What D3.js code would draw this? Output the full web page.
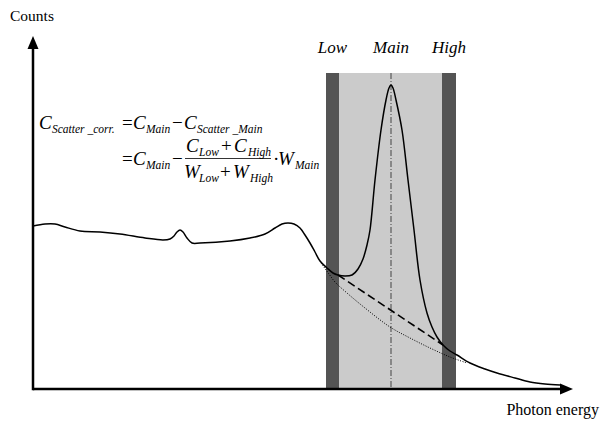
<!DOCTYPE html>
<html>
<head>
<meta charset="utf-8">
<script src="https://cdn.jsdelivr.net/npm/d3@7"></script>
<style>
  body { margin: 0; background: #fff; }
  text { font-family: "Liberation Serif", "Times New Roman", serif; fill: #000; }
  .it { font-style: italic; }
</style>
</head>
<body>
<div id="chart"></div>
<script>
//Width and height
var w = 600;
var h = 422;

// spectrum (channel, counts)
var energy = [0, 12, 22, 32, 47, 67, 87, 112, 130, 137, 141, 144, 147, 150, 154, 159, 167, 197, 217, 232,
              242, 249, 255, 261, 267, 272, 277, 282, 287, 294, 300, 305, 312, 319, 325, 330, 334, 337,
              342, 348, 353, 356, 358, 360, 363, 369, 375, 381, 387, 394, 399, 404, 410, 417, 424, 437,
              452, 464, 482, 497, 512, 527];
var counts = [163, 165, 165, 162, 158, 157, 155, 151, 149, 150, 153, 157, 159, 157, 151, 146, 146, 148, 151, 155,
              161, 165, 166, 165, 161, 154, 146, 137, 128, 121, 116, 114, 113, 114, 120, 130, 144, 159,
              209, 259, 289, 301, 304, 301, 289, 259, 209, 159, 109, 76, 62, 52, 44, 38, 34, 26,
              20, 16, 11, 7, 5, 4];

// true scatter under the peak (dotted)
var scatterEnergy = [288, 296, 302, 314, 332, 357, 377, 397, 417, 434];
var scatterCounts = [126, 115, 107, 96, 81, 62, 51, 41, 32, 26];

// linear estimate between the side windows (dashed)
var estEnergy = [305, 410];
var estCounts = [114, 44];

// energy windows
var windowNames = ["Low", "Main", "High"];
var windowStart = [293, 306, 409];
var windowEnd = [306, 409, 423];
var windowTop = 316;
var mainCentre = 358;

//Create scale functions
var xScale = d3.scaleLinear()
                .domain([0, 540])
                .range([33, 573]);

var yScale = d3.scaleLinear()
                .domain([0, 350])
                .range([389, 39]);

//Create SVG element
var svg = d3.select("#chart")
            .append("svg")
            .attr("width", w)
            .attr("height", h);

//Windows
svg.selectAll("rect.win")
   .data(windowNames)
   .enter()
   .append("rect")
   .attr("class", "win")
   .attr("x", function(d, i) { return xScale(windowStart[i]); })
   .attr("y", yScale(windowTop))
   .attr("width", function(d, i) { return xScale(windowEnd[i]) - xScale(windowStart[i]); })
   .attr("height", yScale(0) - yScale(windowTop))
   .attr("fill", function(d) { return d == "Main" ? "#cbcbcb" : "#545454"; });

svg.selectAll("text.win")
   .data(windowNames)
   .enter()
   .append("text")
   .attr("class", "win it")
   .attr("text-anchor", "middle")
   .attr("x", function(d, i) {
        if (d == "Main") return xScale(mainCentre);
        return xScale((windowStart[i] + windowEnd[i]) / 2);
   })
   .attr("y", 53)
   .attr("font-size", "17px")
   .text(function(d) { return d; });

//centre line
svg.append("line")
   .attr("x1", xScale(mainCentre)).attr("x2", xScale(mainCentre))
   .attr("y1", yScale(windowTop)).attr("y2", yScale(0))
   .attr("stroke", "#222")
   .attr("stroke-width", 0.8)
   .attr("stroke-dasharray", "6,2,1,2");

var line = d3.line()
    .x(function(d) { return xScale(d[0]); })
    .y(function(d) { return yScale(d[1]); });

//dotted scatter
svg.append("path")
   .datum(d3.zip(scatterEnergy, scatterCounts))
   .attr("d", line.curve(d3.curveCatmullRom))
   .attr("fill", "none")
   .attr("stroke", "#000")
   .attr("stroke-width", 1)
   .attr("stroke-dasharray", "1,1.5");

//dashed estimate
svg.append("path")
   .datum(d3.zip(estEnergy, estCounts))
   .attr("d", line.curve(d3.curveLinear))
   .attr("fill", "none")
   .attr("stroke", "#000")
   .attr("stroke-width", 1.6)
   .attr("stroke-dasharray", "8,4");

//spectrum
svg.append("path")
   .datum(d3.zip(energy, counts))
   .attr("d", line.curve(d3.curveCatmullRom))
   .attr("fill", "none")
   .attr("stroke", "#000")
   .attr("stroke-width", 1.5);

//Axes
svg.append("line")
   .attr("x1", xScale(0)).attr("x2", xScale(540) - 8)
   .attr("y1", yScale(0)).attr("y2", yScale(0))
   .attr("stroke", "#000").attr("stroke-width", 2.5);
svg.append("path")
   .attr("d", "M" + xScale(540) + "," + yScale(0) + "l-13,-5.5l0,11z");

svg.append("line")
   .attr("x1", xScale(0)).attr("x2", xScale(0))
   .attr("y1", yScale(0) + 1.2).attr("y2", yScale(350) + 8)
   .attr("stroke", "#000").attr("stroke-width", 2.5);
svg.append("path")
   .attr("d", "M" + xScale(0) + "," + (yScale(350) - 3) + "l-5.5,13l11,0z");

svg.append("text")
   .attr("x", 10).attr("y", 21)
   .attr("font-size", "15.5px")
   .text("Counts");

svg.append("text")
   .attr("x", 599).attr("y", 415)
   .attr("text-anchor", "end")
   .attr("font-size", "16px")
   .text("Photon energy");

//Formula
var big = "19px", small = "11.5px";
function sym(x, y, s, size, italic) {
  svg.append("text")
     .attr("class", italic ? "it" : null)
     .attr("x", x).attr("y", y)
     .attr("font-size", size)
     .text(s);
}
// line 1
sym(39, 129, "C", big, true);
sym(52, 133, "Scatter _corr.", small, true);
sym(122, 129, "=", big, false);
sym(133, 129, "C", big, true);
sym(146, 133, "Main", small, true);
sym(172, 129, "\u2212", big, false);
sym(184, 129, "C", big, true);
sym(197, 133, "Scatter _Main", small, true);
// line 2
sym(122, 165, "=", big, false);
sym(133, 165, "C", big, true);
sym(146, 169, "Main", small, true);
sym(172, 165, "\u2212", big, false);
sym(186, 152, "C", big, true);
sym(199, 156, "Low", small, true);
sym(221, 152, "+", big, false);
sym(234, 152, "C", big, true);
sym(248, 156, "High", small, true);
svg.append("line")
   .attr("x1", 185).attr("x2", 271)
   .attr("y1", 158.5).attr("y2", 158.5)
   .attr("stroke", "#000").attr("stroke-width", 0.8);
sym(184, 178, "W", big, true);
sym(199, 182, "Low", small, true);
sym(220, 178, "+", big, false);
sym(233, 178, "W", big, true);
sym(250, 182, "High", small, true);
sym(273, 165, "\u00b7", big, false);
sym(278, 165, "W", big, true);
sym(295, 169, "Main", small, true);
</script>
</body>
</html>
